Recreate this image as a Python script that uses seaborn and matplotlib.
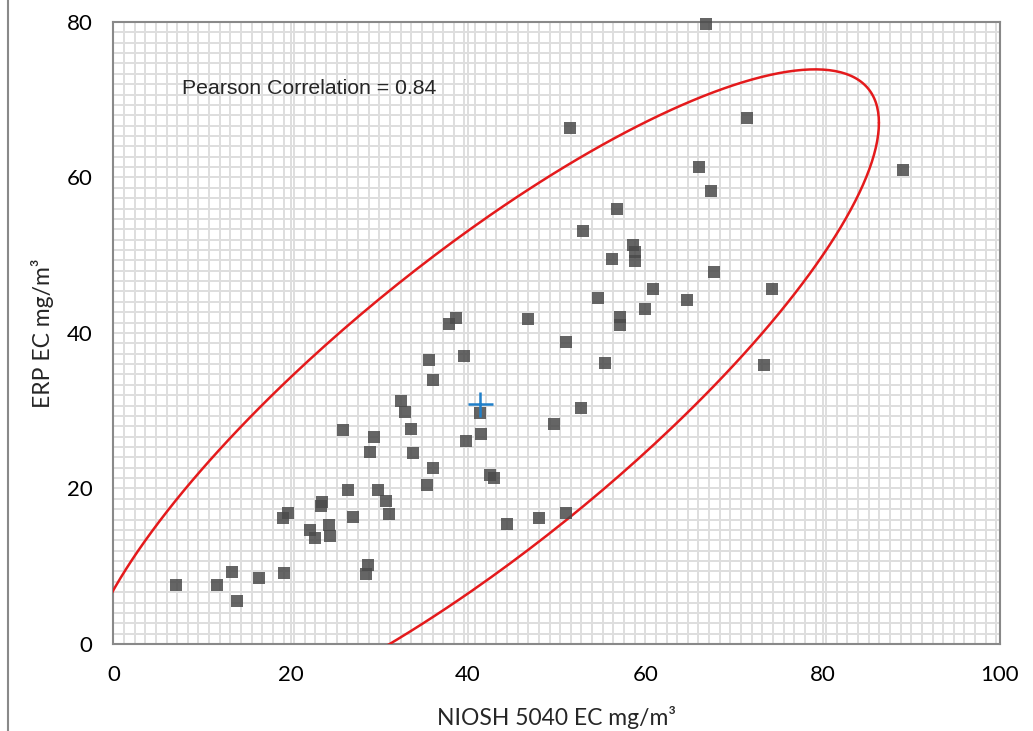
import numpy as np
import pandas as pd
import seaborn as sns
import matplotlib.pyplot as plt
from matplotlib.ticker import MultipleLocator
from matplotlib.lines import Line2D

# NIOSH 5040 EC vs ERP EC (mg/m3)
niosh = [66.9, 51.5, 71.5, 66.1, 89.1, 67.4, 56.8, 53.0, 58.6, 58.8,
         58.8, 56.3, 67.8, 54.7, 60.9, 74.3, 64.7, 60.0, 57.2, 57.2,
         38.6, 37.9, 46.8, 51.1, 55.4, 73.4, 35.6, 39.5, 36.1, 32.4,
         32.9, 33.6, 33.8, 41.4, 41.5, 39.8, 52.8, 49.7, 25.9, 29.4,
         29.0, 36.1, 35.4, 42.5, 42.9, 26.5, 29.9, 30.7, 31.1, 27.0,
         23.5, 23.4, 19.1, 19.7, 22.2, 22.7, 24.3, 24.4, 44.4, 48.0,
         51.1, 28.7, 28.5, 7.1, 11.7, 13.4, 13.9, 16.4, 19.2]
erp = [79.7, 66.3, 67.6, 61.4, 60.9, 58.2, 56.0, 53.1, 51.3, 50.4,
       49.2, 49.5, 47.9, 44.5, 45.6, 45.6, 44.3, 43.1, 42.1, 41.0,
       41.9, 41.1, 41.8, 38.8, 36.2, 35.9, 36.5, 37.0, 33.9, 31.3,
       29.8, 27.6, 24.5, 29.7, 27.0, 26.1, 30.3, 28.3, 27.5, 26.6,
       24.7, 22.6, 20.4, 21.7, 21.3, 19.8, 19.8, 18.4, 16.7, 16.3,
       18.2, 17.7, 16.2, 16.9, 14.6, 13.6, 15.3, 13.9, 15.4, 16.2,
       16.8, 10.2, 9.0, 7.6, 7.6, 9.2, 5.5, 8.5, 9.1]

# mean point and the confidence ellipse (centre, half extents, correlation)
centre = (41.35, 30.9)
half_x, half_y = 45.0, 43.0
rho = 0.84
label_text = 'Pearson Correlation = 0.84'

df = pd.DataFrame({'niosh': niosh, 'erp': erp})

sns.set_style('white')
plt.rcParams['font.family'] = ['Lato', 'DejaVu Sans']

fig = plt.figure(figsize=(10.33, 7.31), dpi=100)
ax = fig.add_axes([0.1097, 0.119, 0.8583, 0.851])

grey = '#898989'
ax.set_xlim(0, 100)
ax.set_ylim(0, 80)
ax.xaxis.set_major_locator(MultipleLocator(20))
ax.yaxis.set_major_locator(MultipleLocator(20))
ax.xaxis.set_minor_locator(MultipleLocator(1.2))
ax.yaxis.set_minor_locator(MultipleLocator(80 / 60))
ax.grid(which='both', color='#dedede', linewidth=1.4)
ax.set_axisbelow(True)
ax.tick_params(which='minor', length=0)
ax.tick_params(which='major', direction='out', length=5, width=1.5,
               color=grey, labelsize=16, pad=10, labelcolor='black')
for s in ax.spines.values():
    s.set_color(grey)
    s.set_linewidth(1.5)

t = np.linspace(0, 2 * np.pi, 400)
ex = centre[0] + half_x * np.cos(t)
ey = centre[1] + half_y * (rho * np.cos(t) + np.sqrt(1 - rho ** 2) * np.sin(t))
ax.plot(ex, ey, color='#e41a1c', linewidth=1.8, zorder=3)

sns.scatterplot(data=df, x='niosh', y='erp', marker='s', s=78, color='#4a4a4a',
                alpha=0.85, linewidth=0, ax=ax, zorder=4, clip_on=False)

ax.plot([centre[0]], [centre[1]], marker='+', markersize=18, mew=1.8,
        color='#1f7fc9', linestyle='none', zorder=5)

ax.text(7.75, 71.4, label_text, ha='left', va='center', fontsize=15.3,
        family=['Liberation Sans'], zorder=6)

ax.set_xlabel('NIOSH 5040 EC mg/m³', fontsize=16.5, labelpad=15)
ax.set_ylabel('ERP EC mg/m³', fontsize=16.5, labelpad=9)

fig.add_artist(Line2D([8 / 1033, 8 / 1033], [0, 1], color=grey, linewidth=1.5))

fig.savefig('out.png', dpi=100, facecolor='white')
